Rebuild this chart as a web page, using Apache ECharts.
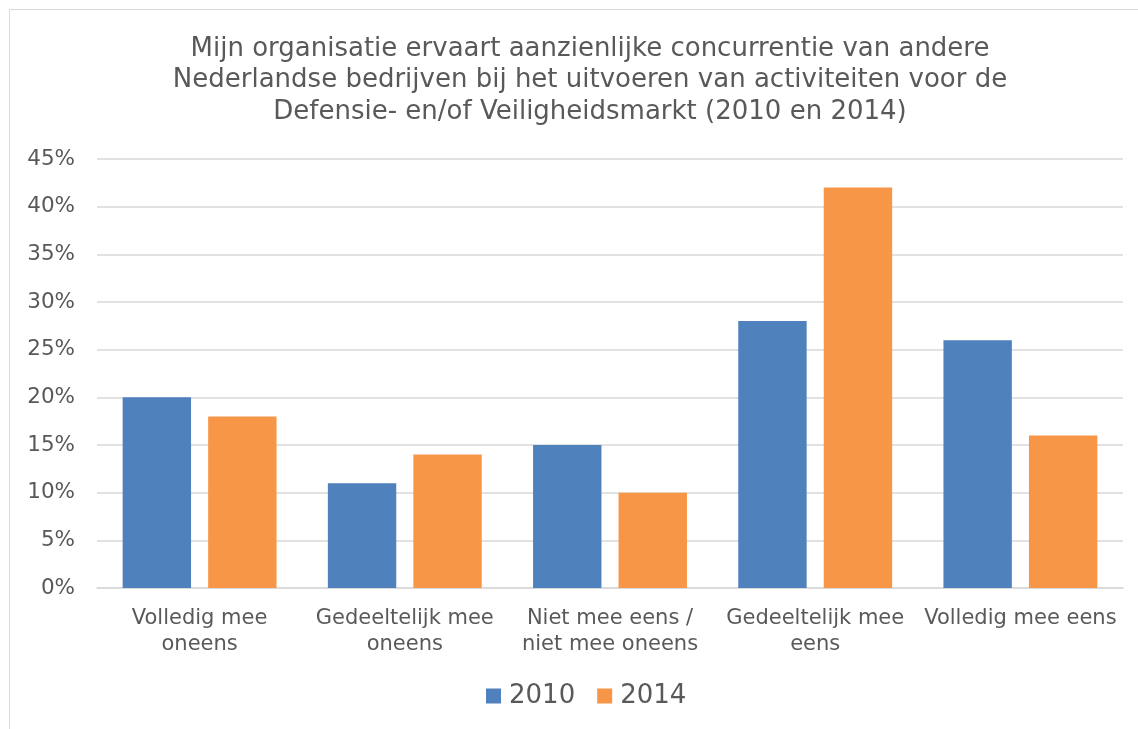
<!DOCTYPE html>
<html><head><meta charset="utf-8">
<script src="https://cdn.jsdelivr.net/npm/echarts@6/dist/echarts.min.js"></script>
<style>html,body{margin:0;padding:0;background:#fff}#c{width:1138px;height:729px}</style>
</head><body><div id="c"></div>
<script>
const categories = ['Volledig mee\noneens', 'Gedeeltelijk mee\noneens', 'Niet mee eens /\nniet mee oneens', 'Gedeeltelijk mee\neens', 'Volledig mee eens'];
const s2010 = [20, 11, 15, 28, 26];
const s2014 = [18, 14, 10, 42, 16];
const titleText = 'Mijn organisatie ervaart aanzienlijke concurrentie van andere\nNederlandse bedrijven bij het uitvoeren van activiteiten voor de\nDefensie- en/of Veiligheidsmarkt (2010 en 2014)';

const chart = echarts.init(document.getElementById('c'), null, {renderer: 'canvas'});
const font = "'DejaVu Sans'";
chart.setOption({
  backgroundColor: '#fff',
  animation: false,
  graphic: [{type: 'rect', shape: {x: 9.5, y: 9.5, width: 1160, height: 740}, style: {fill: 'none', stroke: '#d9d9d9', lineWidth: 1}, z: -1}],
  title: {
    text: titleText, left: 585, top: 28, textAlign: 'center',
    textStyle: {fontFamily: font, fontSize: 26, fontWeight: 'normal', color: '#595959', lineHeight: 31.5}
  },
  legend: {
    data: ['2010', '2014'], left: 481, top: 678, itemWidth: 15, itemHeight: 15, itemGap: 22,
    textStyle: {fontFamily: font, fontSize: 26, color: '#595959', padding: [0, 0, 0, 3]}, icon: 'rect'
  },
  grid: {left: 97, right: 15, top: 159, bottom: 141, containLabel: false},
  xAxis: {
    type: 'category', data: categories,
    axisLine: {lineStyle: {color: '#d9d9d9', width: 1.5}}, axisTick: {show: false},
    axisLabel: {fontFamily: font, fontSize: 21, color: '#595959', margin: 18, lineHeight: 26, interval: 0}
  },
  yAxis: {
    type: 'value', min: 0, max: 45, interval: 5,
    axisLabel: {formatter: '{value}%', fontFamily: font, fontSize: 21.5, color: '#595959', margin: 22},
    splitLine: {lineStyle: {color: '#d9d9d9', width: 1.5}}, axisLine: {show: false}, axisTick: {show: false}
  },
  series: [
    {name: '2010', type: 'bar', data: s2010, itemStyle: {color: '#4f81bd'}, barGap: '25%', barCategoryGap: '25%'},
    {name: '2014', type: 'bar', data: s2014, itemStyle: {color: '#f79646'}}
  ]
});
</script></body></html>
